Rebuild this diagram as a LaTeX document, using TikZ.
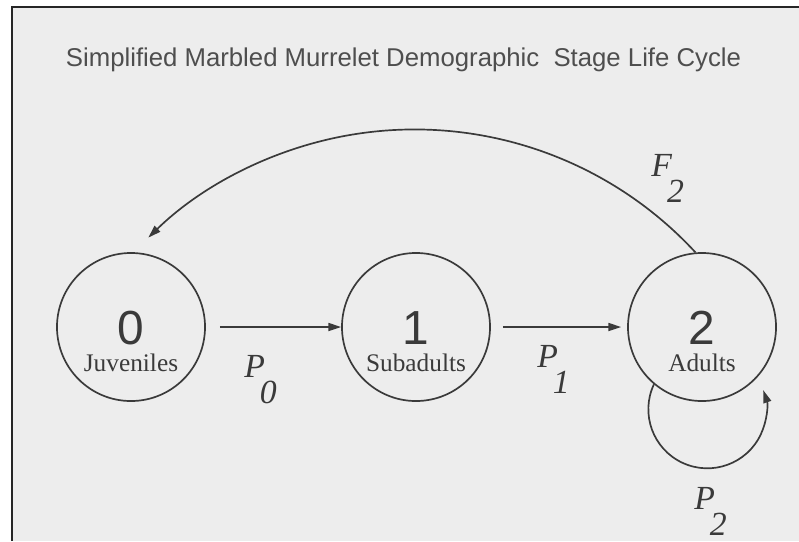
\documentclass[tikz,border=0pt]{standalone}
\usepackage{fontspec}
\setmainfont{Liberation Serif}
\setsansfont{Liberation Sans}
\usetikzlibrary{calc, arrows.meta}
\definecolor{ink}{HTML}{3A3A3A}
\definecolor{paper}{HTML}{EDEDED}
\newcommand{\ratelbl}[2]{\textit{#1}\kern-0.15em\raisebox{-0.78em}{\textit{#2}}}

\begin{document}
\begin{tikzpicture}[x=0.025cm, y=-0.025cm,
    stage/.style={circle, draw=ink, line width=1.2pt, minimum size=3.7cm, inner sep=0pt},
    stagenum/.style={text=ink, font=\sffamily\fontsize{34}{34}\selectfont, anchor=base, inner sep=0pt},
    stagename/.style={text=ink, font=\fontsize{18}{18}\selectfont, anchor=base, inner sep=0pt},
    rate/.style={text=ink, font=\fontsize{24}{24}\selectfont, anchor=base west, inner sep=0pt},
    trans/.style={draw=ink, line width=1.2pt, -{Triangle[length=3.2mm, width=2mm]}}]
    \useasboundingbox (0,0) rectangle (799,541);
    \fill[white] (0,0) rectangle (799,541);
    \fill[paper] (12,7) rectangle (799,541);
    \draw[line width=1.4pt, black!85] (12,541) -- (12,7) -- (799,7);

    \node[text=ink!90, font=\sffamily\fontsize{18.3}{18.3}\selectfont, anchor=base, inner sep=0pt] (title) at (403.5,66) {Simplified Marbled Murrelet Demographic\ \ Stage Life Cycle};

    % stages
    \node[stage] (n0) at (131,327) {};
    \node[stage] (n1) at (416,327) {};
    \node[stage] (n2) at (702,327) {};
    \node[stagenum] (d0) at ($(n0)+(0,17)$) {0};
    \node[stagenum] (d1) at ($(n1)+(0,17)$) {1};
    \node[stagenum] (d2) at ($(n2)+(0,17)$) {2};
    \node[stagename] (juv) at ($(n0)+(0,44)$) {Juveniles};
    \node[stagename] (sub) at ($(n1)+(0,44)$) {Subadults};
    \node[stagename] (adu) at ($(n2)+(0,44)$) {Adults};

    % transitions
    \draw[trans, shorten <=0.35cm] (n0) -- (n1);
    \draw[trans, shorten <=0.3cm, shorten >=0.15cm] (n1) -- (n2);
    \draw[trans] (n2.230) arc[start angle=155, end angle=379, radius=1.475cm];
    \draw[trans] (n2.95) arc[start angle=42.7, end angle=134.2, radius=9.55cm];

    \node[rate] (p0) at (244,377) {\ratelbl{P}{0}};
    \node[rate] (p1) at (537,367) {\ratelbl{P}{1}};
    \node[rate] (p2) at (694,509) {\ratelbl{P}{2}};
    \node[rate] (f2) at (651,176) {\ratelbl{F}{2}};
\end{tikzpicture}
\end{document}
